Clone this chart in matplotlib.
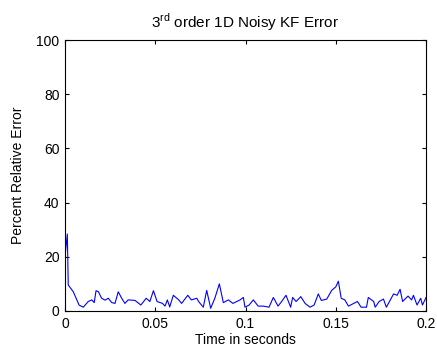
import matplotlib
matplotlib.use("Agg")
import matplotlib.pyplot as plt

# Percent relative error of the 3rd order 1D noisy KF
time_s = [0.0, 0.0013, 0.0018, 0.0046, 0.0078, 0.0101, 0.0129, 0.0148, 0.0162, 0.0172,
          0.0185, 0.0203, 0.0222, 0.0240, 0.0259, 0.0277, 0.0295, 0.0314, 0.0332, 0.0350,
          0.0388, 0.0420, 0.0450, 0.0470, 0.0490, 0.0510, 0.0540, 0.0554, 0.0567, 0.0580,
          0.0600, 0.0630, 0.0646, 0.0680, 0.0700, 0.0730, 0.0740, 0.0766, 0.0785, 0.0807,
          0.0830, 0.0855, 0.0877, 0.0905, 0.0930, 0.0970, 0.0988, 0.0997, 0.1020, 0.1043,
          0.1070, 0.1099, 0.1130, 0.1154, 0.1180, 0.1200, 0.1224, 0.1250, 0.1261, 0.1280,
          0.1306, 0.1330, 0.1357, 0.1380, 0.1403, 0.1420, 0.1450, 0.1477, 0.1500, 0.1514,
          0.1530, 0.1550, 0.1570, 0.1620, 0.1640, 0.1670, 0.1680, 0.1710, 0.1718, 0.1740,
          0.1764, 0.1780, 0.1820, 0.1840, 0.1856, 0.1870, 0.1900, 0.1920, 0.1930, 0.1950,
          0.1970, 0.1980, 0.2000]
error_pct = [20.0, 28.4, 9.6, 7.1, 2.2, 1.4, 3.5, 4.1, 3.1, 7.5,
             7.1, 4.7, 4.0, 4.7, 3.1, 2.8, 7.1, 4.7, 2.8, 4.1,
             3.9, 2.2, 4.7, 3.5, 7.5, 3.5, 2.8, 1.8, 4.1, 1.5,
             5.8, 4.1, 2.8, 5.8, 4.1, 4.7, 3.5, 1.4, 7.6, 1.0,
             4.7, 10.0, 3.1, 4.1, 2.8, 4.1, 5.0, 1.4, 2.2, 4.1,
             1.8, 1.8, 1.4, 5.0, 1.8, 3.5, 5.8, 1.4, 5.0, 3.5,
             5.3, 2.8, 1.4, 2.2, 6.3, 3.9, 4.4, 7.6, 8.9, 11.0,
             4.7, 4.1, 1.8, 3.5, 1.4, 1.4, 5.0, 3.5, 1.4, 3.5,
             4.4, 1.4, 6.3, 5.8, 8.0, 3.5, 5.5, 4.1, 5.8, 2.2,
             4.7, 2.2, 5.0]

x_ticks = [0, 0.05, 0.1, 0.15, 0.2]
x_tick_labels = ["0", "0.05", "0.1", "0.15", "0.2"]
y_ticks = [0, 20, 40, 60, 80, 100]

plt.rcParams["font.family"] = ["Liberation Sans", "DejaVu Sans"]
plt.rcParams["mathtext.fontset"] = "custom"
plt.rcParams["mathtext.rm"] = "Liberation Sans"

fig = plt.figure(figsize=(4.37, 3.54), dpi=100)
ax = fig.add_axes([0.1487, 0.1215, 0.8263, 0.7655])

ax.plot(time_s, error_pct, color="#0000ff", linewidth=0.8)

ax.set_xlim(0, 0.2)
ax.set_ylim(0, 100)
ax.set_xticks(x_ticks)
ax.set_xticklabels(x_tick_labels)
ax.set_yticks(y_ticks)
ax.tick_params(direction="in", top=True, right=True, length=3, labelsize=10, pad=4)
for s in ax.spines.values():
    s.set_linewidth(0.8)

ax.set_xlabel("Time in seconds", fontsize=10, labelpad=2)
ax.set_ylabel("Percent Relative Error", fontsize=10, labelpad=8)
ax.set_title(r"3$^{\mathrm{rd}}$ order 1D Noisy KF Error", fontsize=11, pad=9)

fig.savefig("out.png", dpi=100)
